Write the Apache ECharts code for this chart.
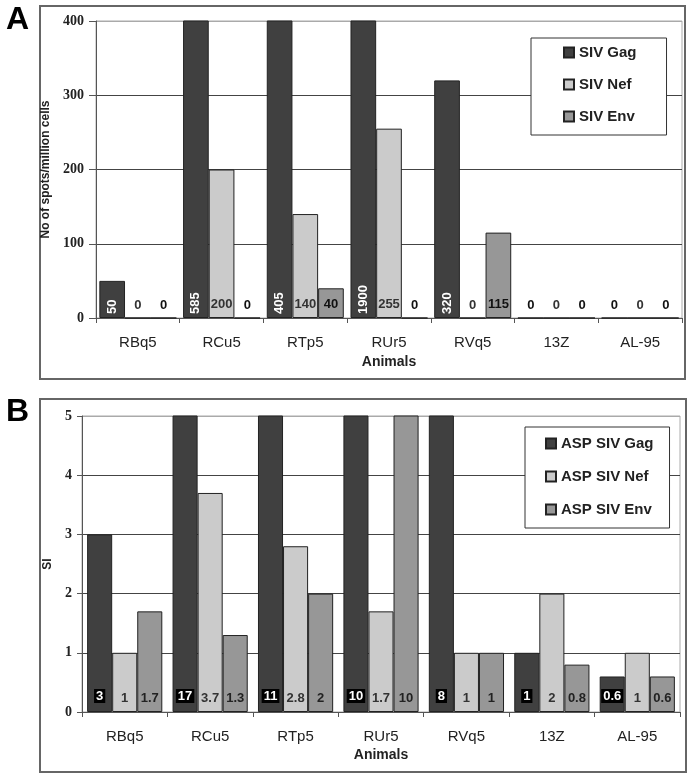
<!DOCTYPE html>
<html>
<head>
<meta charset="utf-8">
<script src="https://cdn.jsdelivr.net/npm/echarts@6/dist/echarts.min.js"></script>
<style>html,body{margin:0;padding:0;background:#fff}#c{width:695px;height:781px}</style>
</head>
<body>
<div id="c"></div>
<script>
const categories = ['RBq5','RCu5','RTp5','RUr5','RVq5','13Z','AL-95'];
const spotsGag = [50,585,405,1900,320,0,0];
const spotsNef = [0,200,140,255,0,0,0];
const spotsEnv = [0,0,40,0,115,0,0];
const siGag = [3,17,11,10,8,1,0.6];
const siNef = [1,3.7,2.8,1.7,1,2,1];
const siEnv = [1.7,1.3,2,10,1,0.8,0.6];
const spotsNames = ['SIV Gag','SIV Nef','SIV Env'];
const siNames = ['ASP SIV Gag','ASP SIV Nef','ASP SIV Env'];

const cGag = '#404040', cNef = '#cbcbcb', cEnv = '#979797';
const font = 'Arial, "Liberation Sans", sans-serif';
const serif = '"Liberation Serif", "Times New Roman", serif';

function xAxis(gridIndex){
  return {
    type:'category', gridIndex, data: categories,
    axisLine:{lineStyle:{color:'#555',width:1}},
    axisTick:{show:true,length:5,lineStyle:{color:'#555'}},
    axisLabel:{fontFamily:font,fontSize:15,color:'#222',margin:17},
    name:'Animals', nameLocation:'middle', nameGap: gridIndex===0?37:36,
    nameTextStyle:{fontFamily:font,fontSize:14,fontWeight:'bold',color:'#222'}
  };
}
function yAxis(gridIndex, max, interval, name, gap, tickLen, margin, nameSize){
  return {
    type:'value', gridIndex, min:0, max, interval,
    axisLine:{show:true,lineStyle:{color:'#555'}},
    axisTick:{show:true,length:tickLen,lineStyle:{color:'#555'}},
    axisLabel:{fontFamily:serif,fontSize:14,fontWeight:'bold',color:'#222',margin},
    splitLine:{lineStyle:{color:['#444','#444','#444','#444','#444','#aaa'].slice(-(max/interval+1)),width:1}},
    name, nameLocation:'middle', nameGap:gap,
    nameTextStyle:{fontFamily:font,fontSize:nameSize,fontWeight:'bold',color:'#222'}
  };
}
function bar(name, data, color, idx, label, gap){
  return {
    type:'bar', name, data, xAxisIndex:idx, yAxisIndex:idx,
    barGap:'0%', barCategoryGap:gap,
    itemStyle:{color, borderColor:'#222', borderWidth:1},
    label: Object.assign({show:true, position:'insideBottom', formatter:'{c}',
      fontFamily:font, fontSize:13, fontWeight:'bold'}, label),
    emphasis:{disabled:true}, animation:false
  };
}
const gagRot = {rotate:90, align:'left', verticalAlign:'middle', distance:4, color:'#fff'};
const plainLbl = {distance:7, color:'#333'};
const boxLbl = {distance:9, color:'#fff', backgroundColor:'#000', padding:[1,2,0,2]};
// zero-height gag bars show a plain dark label, like the other zero labels
const spotsGagItems = spotsGag.map(v => v === 0
  ? {value:v, label:{rotate:0, align:'center', verticalAlign:'bottom', distance:7, color:'#111'}}
  : v);

function legend(names, left, top, padding){
  return {
    data:names, orient:'vertical', left, top, padding, itemGap: names[0].length>8?18:17,
    itemWidth:10, itemHeight:10, icon:'rect', selectedMode:false,
    borderColor:'#333', borderWidth:1, backgroundColor:'#fff',
    textStyle:{fontFamily:font,fontSize:15,fontWeight:'bold',color:'#222',lineHeight:15}
  };
}

const chart = echarts.init(document.getElementById('c'), null, {renderer:'canvas'});
chart.setOption({
  animation:false,
  backgroundColor:'#fff',
  graphic:[
    {type:'rect', shape:{x:40,y:6,width:645,height:373}, style:{fill:null,stroke:'#666',lineWidth:2}, z:-1},
    {type:'rect', shape:{x:40,y:399,width:646,height:373}, style:{fill:null,stroke:'#666',lineWidth:2}, z:-1},
    {type:'text', left:6, top:4, style:{text:'A', fontFamily:font, fontSize:32, fontWeight:'bold', fill:'#000'}},
    {type:'text', left:6, top:396, style:{text:'B', fontFamily:font, fontSize:32, fontWeight:'bold', fill:'#000'}}
  ],
  grid:[
    {left:96, top:21, right:13, bottom:463, show:true, borderColor:'#aaa', borderWidth:1, containLabel:false},
    {left:82, top:416, right:15, bottom:69, show:true, borderColor:'#aaa', borderWidth:1, containLabel:false}
  ],
  xAxis:[xAxis(0), xAxis(1)],
  yAxis:[yAxis(0,400,100,'No of spots/million cells',41,7,12,12), yAxis(1,5,1,'SI',28,5,10,12)],
  legend:[legend(spotsNames,531,38,[7,30,11,32]), legend(siNames,525,427,[9,16,11,20])],
  series:[
    bar(spotsNames[0], spotsGagItems, cGag, 0, gagRot, '8%'),
    bar(spotsNames[1], spotsNef, cNef, 0, plainLbl, '8%'),
    bar(spotsNames[2], spotsEnv, cEnv, 0, {distance:7,color:'#111'}, '8%'),
    bar(siNames[0], siGag, cGag, 1, boxLbl, '12%'),
    bar(siNames[1], siNef, cNef, 1, plainLbl, '12%'),
    bar(siNames[2], siEnv, cEnv, 1, {distance:7,color:'#222'}, '12%')
  ]
});
</script>
</body>
</html>
